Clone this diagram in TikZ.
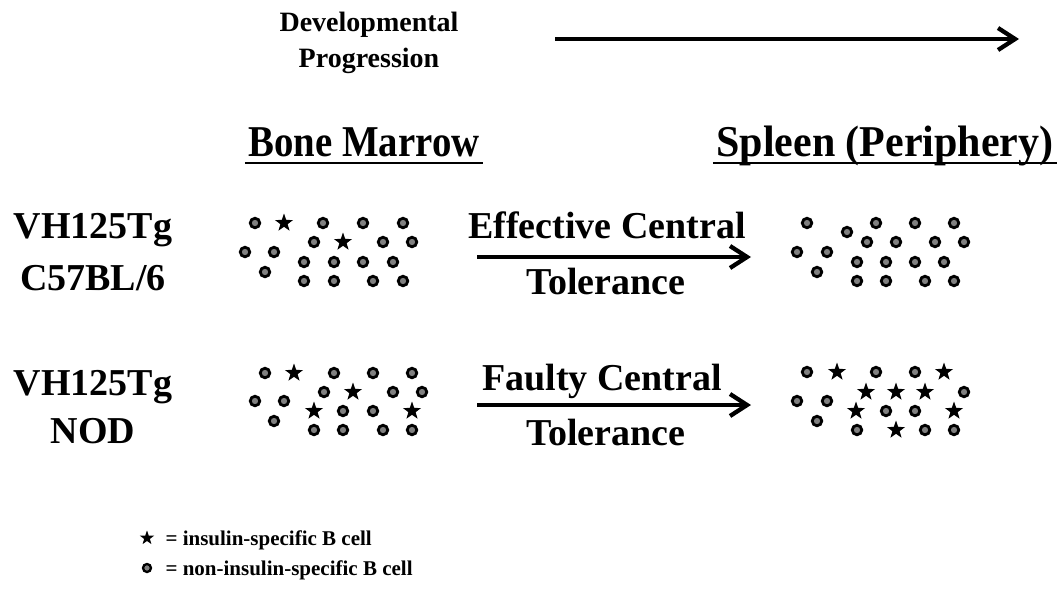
\documentclass[tikz,border=0pt]{standalone}
\usepackage{fontspec}
\setmainfont{Liberation Serif}
\usepackage{tikz}
\usetikzlibrary{arrows.meta, shapes.geometric}
\definecolor{cellgray}{HTML}{808080}

\begin{document}
\begin{tikzpicture}[x=1pt, y=-1pt,
      bcell/.style={circle, draw=black, fill=cellgray, line width=2.8pt,
        minimum size=9.5pt, inner sep=0pt},
      inscell/.style={star, star points=5, star point ratio=2.5, fill=black,
        minimum size=19pt, inner sep=0pt},
      bigtxt/.style={font=\fontsize{38}{46}\selectfont\bfseries, anchor=base},
      headtxt/.style={font=\fontsize{40}{48}\selectfont\bfseries, anchor=base},
      toptxt/.style={font=\fontsize{28}{36}\selectfont\bfseries, anchor=base},
      keytxt/.style={font=\fontsize{21}{26}\selectfont\bfseries, anchor=base west},
      fatarrow/.style={line width=4.3pt, -{Straight Barb[length=17pt, width=22pt]}}
    ]
      \useasboundingbox (0,0) rectangle (1062,600);
      % developmental progression
      \node[toptxt] (dev) at (369,31) {Developmental};
      \node[toptxt] (prog) at (369,67) {Progression};
      \coordinate (devstart) at (555,39);
      \coordinate (devend) at (1019,39);
      \draw[fatarrow] (devstart) -- (devend);
      % column headings
      \node[headtxt] (bm) at (364,156) {\scalebox{0.97}[1.1]{Bone Marrow}};
      \node[headtxt] (sp) at (885,156) {\scalebox{1.05}[1.1]{Spleen (Periphery)}};
      \draw[line width=2.5pt] ([yshift=-7pt]bm.base west) -- ([yshift=-7pt]bm.base east);
      \draw[line width=2.5pt] ([yshift=-7pt]sp.base west) -- ([yshift=-7pt]sp.base east);
      % strains
      \node[bigtxt] (tgA) at (93,238) {VH125Tg};
      \node[bigtxt] (bgA) at (93,290) {C57BL/6};
      \node[bigtxt] (tgB) at (93,395) {VH125Tg};
      \node[bigtxt] (bgB) at (93,443) {NOD};
      % tolerance arrows
      \node[bigtxt] (effA) at (607,238) {Effective Central};
      \node[bigtxt] (tolA) at (606,294) {Tolerance};
      \node[bigtxt] (effB) at (602,390) {Faulty Central};
      \node[bigtxt] (tolB) at (606,445) {Tolerance};
      \coordinate (arrAs) at (477,257);
      \coordinate (arrAe) at (751,257);
      \coordinate (arrBs) at (477,405);
      \coordinate (arrBe) at (751,405);
      \draw[fatarrow] (arrAs) -- (arrAe);
      \draw[fatarrow] (arrBs) -- (arrBe);
      % bone marrow, C57BL/6
      \foreach \x/\y/\k [count=\n] in {255/223/bcell, 284/223/inscell, 323/223/bcell,
          363/223/bcell, 403/223/bcell, 314/242/bcell, 343/242/inscell, 383/242/bcell,
          412/242/bcell, 245/252/bcell, 274/252/bcell, 304/262/bcell, 334/262/bcell,
          363/262/bcell, 393/262/bcell, 265/272/bcell, 304/281/bcell, 334/281/bcell,
          373/281/bcell, 403/281/bcell}
        \node[\k] (bmA-\n) at (\x,\y) {};
      % spleen, C57BL/6
      \foreach \x/\y/\k [count=\n] in {807/223/bcell, 876/223/bcell, 915/223/bcell,
          954/223/bcell, 847/232/bcell, 867/242/bcell, 896/242/bcell, 935/242/bcell,
          964/242/bcell, 797/252/bcell, 827/252/bcell, 857/262/bcell, 886/262/bcell,
          915/262/bcell, 944/262/bcell, 817/272/bcell, 857/281/bcell, 886/281/bcell,
          925/281/bcell, 954/281/bcell}
        \node[\k] (spA-\n) at (\x,\y) {};
      % bone marrow, NOD
      \foreach \x/\y/\k [count=\n] in {265/373/bcell, 294/373/inscell, 334/373/bcell,
          373/373/bcell, 412/373/bcell, 324/392/bcell, 353/392/inscell, 393/392/bcell,
          422/392/bcell, 255/401/bcell, 284/401/bcell, 314/411/inscell, 343/411/bcell,
          373/411/bcell, 412/411/inscell, 274/421/bcell, 314/430/bcell, 343/430/bcell,
          383/430/bcell, 412/430/bcell}
        \node[\k] (bmB-\n) at (\x,\y) {};
      % spleen, NOD
      \foreach \x/\y/\k [count=\n] in {807/372/bcell, 837/372/inscell, 876/372/bcell,
          915/372/bcell, 944/372/inscell, 866/392/inscell, 896/392/inscell, 925/392/inscell,
          964/392/bcell, 797/401/bcell, 827/401/bcell, 856/411/inscell, 886/411/bcell,
          915/411/bcell, 954/411/inscell, 817/421/bcell, 857/430/bcell, 896/430/inscell,
          925/430/bcell, 954/430/bcell}
        \node[\k] (spB-\n) at (\x,\y) {};
      % key
      \node[inscell, minimum size=15pt] (keyins) at (147,538) {};
      \node[bcell, minimum size=8pt, line width=2.3pt] (keyb) at (147,568) {};
      \node[keytxt] (keyinstxt) at (162,545) {= insulin-specific B cell};
      \node[keytxt] (keybtxt) at (162,575) {= non-insulin-specific B cell};
    \end{tikzpicture}
\end{document}
